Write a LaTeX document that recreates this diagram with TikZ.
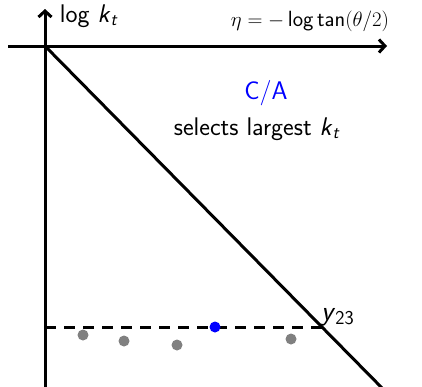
\documentclass[tikz,border=0pt]{standalone}
\usepackage{fontspec}
\usetikzlibrary{arrows.meta}
\renewcommand{\familydefault}{\sfdefault}
\newcommand{\sfi}[1]{\textsf{\itshape #1}}
\begin{document}
\begin{tikzpicture}[x=1pt,y=-1pt,
  axis/.style={line width=3pt},
  arr/.style={-{Straight Barb[length=6pt,width=13pt]}},
  lbl/.style={font=\fontsize{25.5}{30}\selectfont\sffamily, inner sep=0pt},
  gdot/.style={circle, fill=gray, inner sep=0pt, minimum size=11pt},
  bdot/.style={circle, fill=blue, inner sep=0pt, minimum size=11pt}]
\useasboundingbox (0,0) rectangle (422,386);
\coordinate (o) at (45,46);
\coordinate (ytop) at (45,9);
\coordinate (ybot) at (45,390);
\coordinate (xl) at (8,46);
\coordinate (xr) at (387,46);
\coordinate (dend) at (385,391);
\coordinate (dl) at (45,327);
\coordinate (x23) at (326,327);
\draw[axis,arr] (ybot) -- (ytop);
\draw[axis,arr] (xl) -- (xr);
\draw[axis] (o) -- (dend);
\draw[axis,dash pattern=on 11pt off 8pt] (dl) -- (x23);
\node[lbl] (lk) at (89,16) {log \sfi{k}\textsubscript{\sfi{t}}};
\node[lbl, font=\fontsize{22}{26}\selectfont\sffamily] (eta) at (310,21) {$\eta = -$\,log\,tan$(\theta/2)$};
\node[lbl, text=blue] (ca) at (266,93) {C/A};
\node[lbl] (sel) at (257,129) {selects largest \sfi{k}\textsubscript{\sfi{t}}};
\node[lbl, anchor=south west, font=\fontsize{28}{32}\selectfont\sffamily] (y23) at (321,326) {\sfi{y}\textsubscript{23}};
\node[gdot] (g1) at (83,335) {};
\node[gdot] (g2) at (124,341) {};
\node[gdot] (g3) at (177,345) {};
\node[bdot] (b1) at (215,327) {};
\node[gdot] (g4) at (291,339) {};
\end{tikzpicture}
\end{document}
